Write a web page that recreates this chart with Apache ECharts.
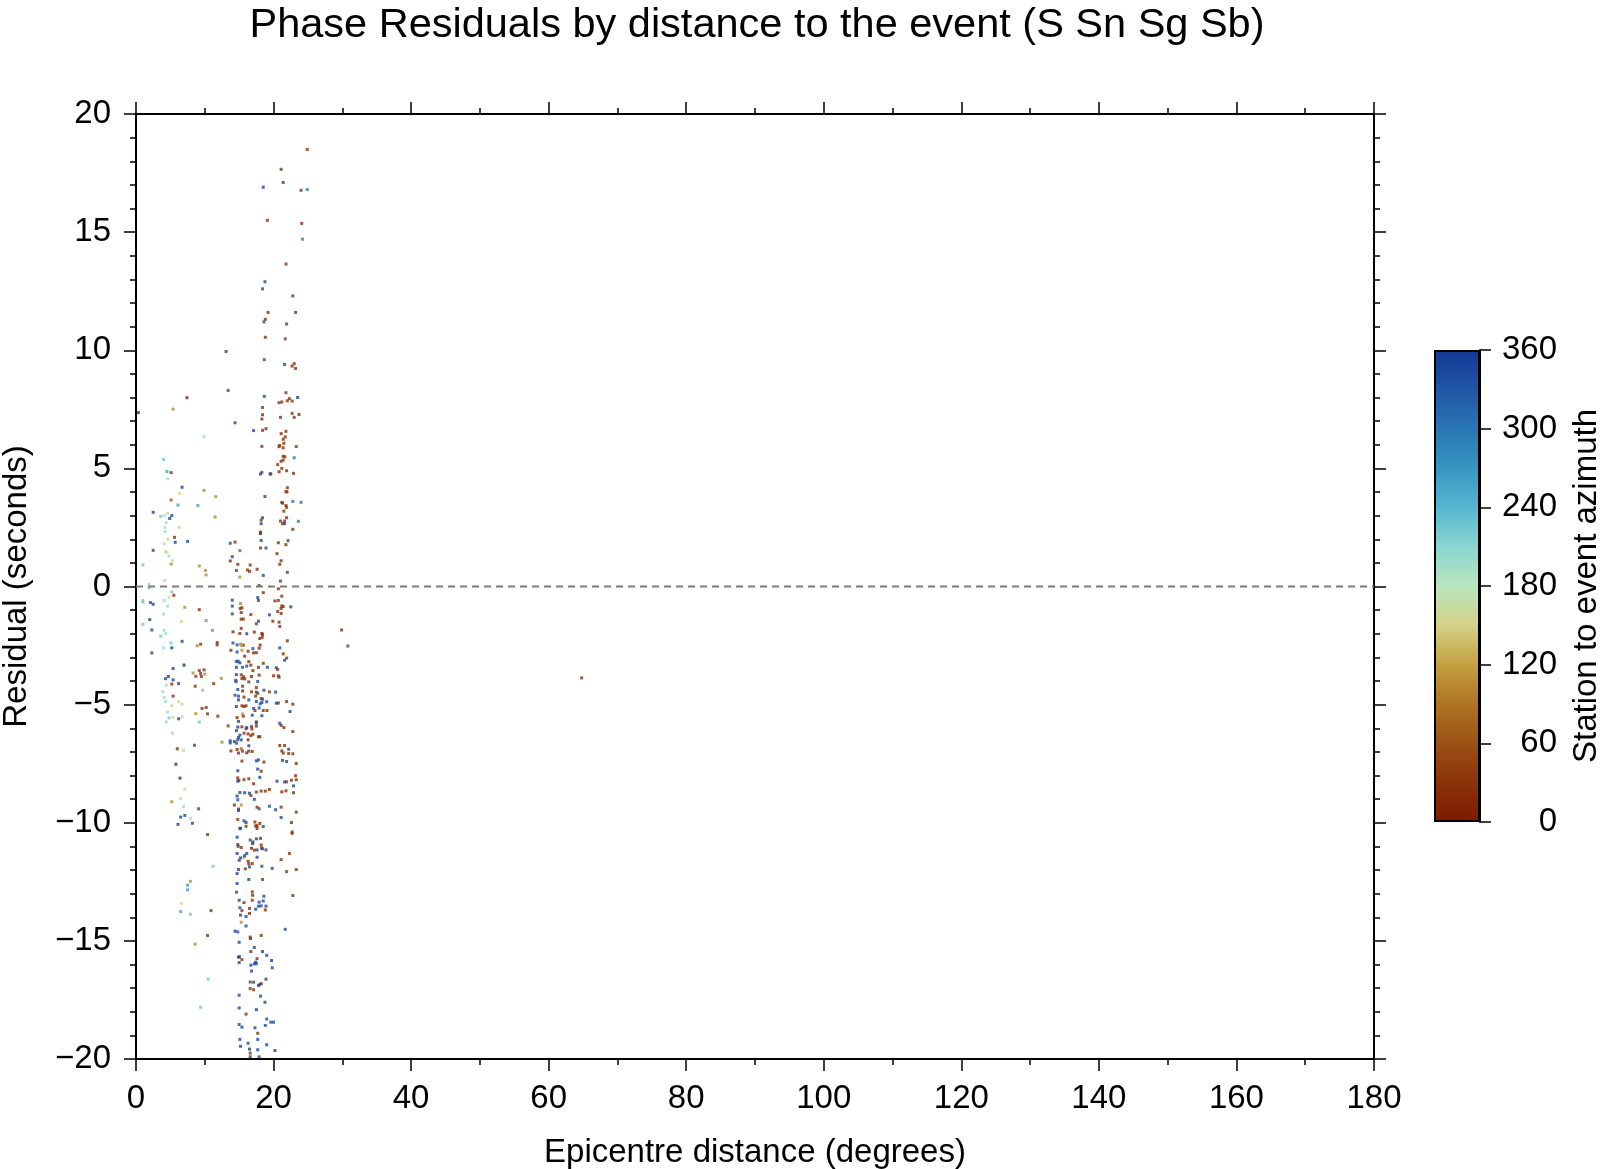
<!DOCTYPE html>
<html>
<head>
<meta charset="utf-8">
<script src="https://cdn.jsdelivr.net/npm/echarts@6/dist/echarts.min.js"></script>
<style>
html,body{margin:0;padding:0;background:#fff;}
#chart{width:1600px;height:1169px;}
</style>
</head>
<body>
<div id="chart"></div>
<script>
// ---- Data: [epicentre distance (deg), residual (s)] grouped by station-to-event azimuth ----
const titleText = 'Phase Residuals by distance to the event (S Sn Sg Sb)';
const xTicks = [0, 20, 40, 60, 80, 100, 120, 140, 160, 180];
const yTicks = [-20, -15, -10, -5, 0, 5, 10, 15, 20];
const azimuthTicks = [0, 60, 120, 180, 240, 300, 360];
const zeroLine = [[0, 0], [180, 0]];

const groupAzimuth = {
  darkBrown: 8, brown: 25, goldBrown: 70, gold: 105, yellowGreen: 158,
  mint: 195, cyan: 225, blueCyan: 262, lightBlue: 300, blue: 345
};

const darkBrown = [[7.4,7.99],[0.34,7.36],[18.1,2.24],[5.8,-7.52],[6.4,-8.11],[18.1,2.3]];

const brown = [
  [24.9,18.5],[21.1,17.66],[24.0,16.77],[19.1,15.5],[24.1,15.37],[21.8,13.65],[22.8,12.3],[19.2,11.6],[23.2,11.6],[18.8,11.31],[21.9,11.11],[18.8,10.55],[21.7,10.48],
  [18.65,9.6],[22.7,9.33],[23.0,9.43],[23.2,9.23],[21.8,8.2],[20.8,7.78],[21.2,7.81],[22.0,7.86],[22.3,7.95],[22.7,7.85],[18.4,7.58],[18.4,7.27],[18.3,7.09],[21.0,7.16],[22.7,7.33],[23.0,7.16],[23.7,7.28],[14.4,6.93],[18.4,6.61],[18.9,6.68],[21.8,6.57],[21.1,6.47],[21.7,6.33],[21.4,6.23],[21.5,6.06],[20.9,5.97],[20.8,5.92],[18.3,5.93],[21.4,5.87],[23.3,5.92],[21.4,5.51],[21.65,5.49],[21.4,5.35],[21.1,5.3],[20.6,5.16],[5.1,4.82],[21.2,5.0],[20.8,4.86],[21.9,4.9],[22.9,4.79],[18.3,4.83],[19.6,4.76],[22.0,4.18],[18.75,3.81],[21.8,4.01],[21.95,4.01],[21.2,3.56],[21.3,3.53],[21.8,3.43],[21.9,3.35],[21.5,3.19],[18.2,2.81],[21.9,2.91],[21.0,2.77],[21.6,2.77],[21.3,2.66],[22.8,2.42],[5.6,2.08],[22.1,1.94],[14.4,1.88],[20.7,1.85],[21.8,1.77],[18.1,1.63],[20.5,1.39],[21.1,1.09],[20.9,0.94],[13.7,1.08],[14.8,0.94],[16.6,0.91],[16.2,0.7],[16.5,0.64],[17.6,0.73],[21.0,0.23],[17.9,0.04],[20.7,-0.1],
  [5.5,-0.37],[18.5,-0.26],[17.8,-0.59],[21.2,-0.41],[20.2,-0.61],[20.7,-0.59],[15.4,-0.9],[15.15,-0.93],[21.2,-0.82],[21.1,-0.93],[21.4,-0.85],[9.2,-0.98],[15.3,-1.1],[16.7,-1.19],[20.6,-1.06],[21.1,-1.14],[15.3,-1.38],[15.6,-1.38],[17.5,-1.58],[19.9,-1.47],[20.8,-1.51],[20.9,-1.69],[15.3,-1.77],[14.1,-1.92],[15.1,-1.99],[17.2,-1.93],[18.3,-1.99],[18.4,-2.03],[18.35,-2.15],[18.0,-2.2],[9.4,-2.44],[11.8,-2.37],[11.8,-2.47],[15.6,-2.48],[13.8,-2.7],[15.8,-2.95],[16.3,-2.74],[17.1,-2.81],[17.5,-2.8],[17.9,-2.61],[18.05,-2.48],[22.0,-2.3],[21.4,-2.85],[21.9,-3.03],[16.4,-3.18],[16.7,-3.33],[17.0,-3.56],[17.8,-3.42],[18.5,-3.25],[20.6,-3.51],[20.7,-3.78],[20.0,-3.78],[8.7,-3.8],[9.2,-3.56],[9.4,-3.68],[9.5,-3.81],[9.9,-3.53],[5.2,-4.13],[8.6,-4.22],[11.3,-4.11],[15.3,-3.74],[15.4,-3.9],[15.65,-3.82],[15.8,-3.91],[16.4,-4.04],[16.8,-3.81],[17.9,-3.75],[20.8,-3.84],[15.5,-4.22],[15.5,-4.42],[17.5,-4.28],[17.7,-4.52],[16.8,-4.46],[19.4,-4.46],[5.4,-4.64],[15.7,-4.68],[17.4,-4.64],[18.2,-4.74],[21.9,-4.87],[20.7,-4.93],[22.8,-4.98],[9.6,-5.16],[10.2,-5.12],[15.4,-5.05],[16.0,-5.05],[15.7,-5.08],[17.3,-5.25],[18.5,-5.25],[19.05,-5.25],[10.4,-5.39],[11.9,-5.49],[15.6,-5.49],[17.5,-5.73],[14.7,-5.55],[13.4,-5.9],[15.4,-5.94],[16.0,-6.02],[16.8,-5.93],[16.85,-6.03],[17.5,-5.91],[21.1,-5.88],[21.5,-5.97],[15.7,-6.21],[16.3,-6.24],[16.7,-6.31],[17.0,-6.25],[17.8,-6.36],[18.0,-6.36],[22.8,-6.14],[16.3,-6.49],[8.5,-6.72],[6.0,-6.87],[13.8,-6.96],[14.7,-6.9],[14.9,-7.05],[15.5,-6.97],[16.1,-7.04],[16.4,-6.97],[16.9,-6.98],[20.9,-6.73],[21.6,-6.73],[21.2,-6.96],[21.4,-7.05],[22.2,-7.07],[22.8,-7.08],[15.4,-7.39],[18.6,-7.43],[23.3,-7.49],[18.2,-7.82],[14.8,-8.1],[14.95,-8.21],[15.7,-8.18],[16.4,-8.14],[17.1,-8.35],[21.9,-8.27],[22.6,-8.2],[23.3,-8.18],[23.2,-8.01],[17.5,-8.7],[18.2,-8.66],[18.8,-8.66],[19.4,-8.59],[21.2,-8.69],[21.8,-8.65],[22.9,-8.73],[16.7,-8.85],[14.3,-9.25],[17.6,-9.34],[21.1,-9.34],[23.3,-9.55],[9.1,-9.41],[14.8,-9.86],[17.3,-9.97],[18.0,-10.03],[17.6,-10.13],[22.6,-9.99],
  [10.4,-10.5],[17.4,-10.13],[17.6,-10.24],[16.0,-10.15],[22.7,-10.39],[22.7,-10.45],[17.0,-10.81],[14.8,-10.92],[15.3,-11.05],[16.8,-11.08],[17.2,-11.16],[18.2,-10.94],[18.25,-11.07],[16.3,-11.63],[16.4,-11.74],[16.9,-11.73],[22.3,-11.3],[21.1,-11.56],[21.9,-12.07],[23.3,-11.98],[15.9,-11.95],[18.4,-12.4],[16.9,-12.93],[16.95,-13.07],[22.8,-13.08],[15.7,-13.38],[16.9,-13.28],[18.8,-13.69],[16.5,-13.63],[15.4,-13.72],[10.9,-13.72],[16.5,-13.84],[10.4,-14.77],[16.6,-14.84],[16.65,-14.9],[18.2,-14.77],[16.7,-15.45],[15.4,-15.79],[17.6,-15.75],[16.6,-16.74],[18.2,-16.81],[16.6,-17.02],[17.1,-17.07],[16.0,-18.1],[17.7,-18.91],[16.6,-19.75],
  [29.9,-1.84],[30.8,-2.52],[64.8,-3.87]
];

const goldBrown = [[15.1,1.52],[5.1,3.66],[15.3,-6.87]];

const gold = [[5.4,7.51],[9.9,4.07],[11.6,3.8],[11.5,2.94],[5.1,0.95],[9.2,0.87],[10.1,0.68],[10.2,0.49],[15.1,0.4],
  [7.1,-0.88],[15.2,-0.72],[10.2,-1.44],[11.1,-1.86],[8.9,-2.51],[15.2,-2.44],[15.4,-2.5],[15.4,-2.7],[8.3,-3.66],[10.0,-3.71],[12.4,-3.89],[8.7,-5.38],[15.5,-5.4],[12.5,-6.59],[5.2,-9.11],[15.3,-9.25],
  [15.7,-11.46],[7.9,-12.48],[15.3,-14.21],[8.6,-15.14]];

const yellowGreen = [[6.35,3.94],[4.6,3.1],[6.25,2.5],[4.65,2.0],[4.3,1.47],[4.5,1.45],[5.3,1.09],[1.9,0.09],
  [4.8,-0.45],[6.6,-1.48],[6.9,-3.3],[5.2,-5.05],[6.2,-4.88],[6.7,-4.98],[5.4,-5.53],[6.7,-5.52],[6.9,-6.94],[7.1,-8.58],[6.5,-8.97],[6.6,-13.41]];

const mint = [[9.9,6.35],[4.6,4.56],[4.1,3.0],[4.4,2.7],[4.2,2.5],[4.2,2.32],[4.1,1.81],[4.8,1.29],[4.2,0.25],
  [4.1,-0.59],[4.6,-0.83],[4.0,-1.17],[4.1,-1.85],[4.3,-1.99],[5.0,-2.37],[5.15,-2.4],[4.0,-2.6],[4.4,-4.18],[3.9,-4.45],[4.1,-4.7],[4.3,-4.87],[4.6,-5.31],[4.4,-5.73],[5.3,-6.21],[6.9,-9.31],[7.9,-9.82]];

const cyan = [[4.0,5.38],[3.6,2.97],[1.0,0.91],[1.9,-0.06],
  [5.2,-0.23],[1.0,-0.59],[1.0,-0.66],[1.0,-1.6],[3.6,-2.1],[9.7,-4.39],[4.8,-5.56],[9.2,-5.74],
  [11.2,-11.84],[7.9,-13.87],[10.5,-16.62],[9.4,-17.81]];

const blueCyan = [[4.5,4.87],[6.1,3.45],[9.0,3.43],[7.5,-12.64],[7.5,-12.84],[6.5,-13.76]];

const lightBlue = [[24.9,16.8],[24.2,14.7],[23.0,5.45],[22.8,3.6],[24.0,3.56],[23.6,2.76]];

const blue = [
  [18.5,16.9],[21.4,17.1],[18.75,12.9],[18.4,12.6],[18.6,11.2],
  [13.1,9.95],[21.6,9.4],[13.4,8.3],[18.65,8.05],[23.5,8.0],[17.1,6.6],[18.1,4.76],[19.5,4.77],[6.7,4.2],[2.5,3.14],[5.2,3.0],[4.9,2.88],[18.4,2.91],[21.6,2.66],[18.2,2.66],[18.2,1.95],[5.7,1.87],[7.5,1.91],[13.7,1.83],[18.9,1.63],[14.0,1.26],[14.6,0.68],[18.5,0.47],[22.0,0.6],[2.5,1.53],
  [17.7,-0.47],[2.1,-0.68],[2.5,-0.75],[14.0,-0.58],[14.0,-0.83],[22.5,-0.86],[14.0,-1.16],[19.4,-1.2],[2.0,-1.4],[17.8,-1.47],[2.3,-1.84],[16.1,-2.0],[5.2,-2.6],[2.3,-2.81],[6.7,-2.32],[14.1,-2.39],[14.7,-2.47],[14.7,-2.77],[17.0,-2.63],[20.9,-2.6],[21.6,-3.12],[14.6,-3.18],[14.85,-3.16],[14.6,-3.42],[15.1,-3.23],[15.5,-3.42],[16.1,-3.37],[19.1,-3.42],[20.4,-3.44],[5.4,-3.47],[7.0,-3.33],[4.3,-3.9],[4.7,-3.81],[5.4,-3.95],[6.2,-4.11],[14.6,-3.73],[14.5,-3.97],[14.55,-4.03],[17.7,-4.02],[14.8,-4.36],[17.5,-4.47],[18.6,-4.39],[20.3,-4.47],[14.9,-4.64],[14.4,-4.6],[14.9,-4.8],[16.4,-4.8],[17.5,-4.87],[18.4,-4.77],[18.3,-4.91],[19.0,-4.88],[20.4,-4.94],[14.6,-5.08],[17.1,-5.16],[17.9,-5.14],[18.05,-4.97],[22.4,-5.29],[16.9,-5.45],[18.3,-5.47],[6.2,-5.6],[14.9,-5.71],[14.8,-5.95],[16.1,-5.97],[17.5,-5.78],[20.9,-5.79],[14.6,-6.1],[15.1,-6.29],[13.7,-6.53],[13.7,-6.62],[14.3,-6.56],[14.6,-6.63],[14.8,-6.49],[14.9,-6.39],[15.3,-6.49],[16.4,-6.74],[22.2,-6.89],[17.5,-7.38],[17.8,-7.34],[21.3,-7.36],[21.9,-7.41],[14.8,-7.8],[17.7,-7.73],[14.8,-8.24],[18.0,-8.08],[20.5,-8.24],[21.6,-8.27],[22.9,-8.44],[15.1,-8.72],[15.8,-8.73],[16.5,-8.75],[14.7,-8.87],[14.8,-9.03],[17.2,-9.01],[14.9,-9.42],[14.9,-9.48],[17.9,-9.41],[19.4,-9.3],[20.3,-9.45],[6.5,-9.76],[7.1,-9.69],[6.1,-10.07],[8.2,-10.02],[15.7,-9.92],[16.0,-9.99],[18.5,-10.16],[21.1,-9.78],[15.2,-10.23],
  [15.1,-10.25],[14.7,-10.61],[16.6,-10.73],[16.95,-10.88],[17.5,-10.68],[18.1,-10.66],[14.85,-11.0],[17.6,-11.15],[18.4,-11.1],[18.9,-11.15],[14.7,-11.3],[16.1,-11.3],[15.8,-11.39],[15.2,-11.49],[15.0,-11.59],[17.6,-11.46],[16.5,-11.87],[18.3,-11.84],[19.8,-11.93],[14.9,-11.98],[14.7,-12.15],[16.4,-12.4],[14.7,-12.57],[14.6,-12.94],[18.6,-13.11],[15.0,-13.28],[17.9,-13.36],[17.8,-13.53],[18.2,-13.52],[18.5,-13.31],[18.9,-13.53],[17.4,-13.66],[15.1,-13.6],[15.2,-13.91],[16.0,-13.97],[16.0,-14.37],[21.7,-14.51],[14.4,-14.59],[14.8,-14.62],[15.0,-15.06],[17.2,-15.28],[14.9,-15.69],[15.05,-15.67],[15.0,-15.92],[16.7,-16.03],[17.2,-15.97],[17.4,-15.9],[17.5,-15.97],[18.4,-15.45],[19.0,-15.61],[19.7,-15.83],[19.8,-16.14],[16.8,-16.28],[17.1,-16.75],[17.8,-16.89],[18.0,-16.85],[18.9,-16.62],[15.0,-17.3],[18.1,-17.34],[18.75,-17.6],[15.0,-17.84],[17.5,-17.91],[19.0,-18.31],[19.6,-18.44],[20.0,-18.44],[18.8,-18.58],[15.0,-18.54],[15.4,-18.65],[17.3,-18.68],[15.1,-19.17],[17.7,-19.17],[16.3,-19.33],[15.2,-19.46],[19.0,-19.4],[16.5,-19.58],[17.7,-19.61],[20.2,-19.64],[16.6,-19.91],[17.9,-19.91]
];

// roma-like colour scale, azimuth 0 -> 360
const paletteStops = [
  [0.000, '#7E1900'], [0.083, '#8A330A'], [0.167, '#9C5115'], [0.250, '#AF7424'],
  [0.333, '#C3A040'], [0.417, '#D4D189'], [0.500, '#BAE5BE'], [0.583, '#8AD6D0'],
  [0.667, '#56B7D0'], [0.750, '#3696C3'], [0.833, '#2A76B4'], [0.917, '#2156A4'],
  [1.000, '#123794']
];

// ---- build ----
const groups = { darkBrown, brown, goldBrown, gold, yellowGreen, mint, cyan, blueCyan, lightBlue, blue };
const scatterData = [];
Object.keys(groups).forEach(k => {
  groups[k].forEach(p => scatterData.push([p[0], p[1], groupAzimuth[k]]));
});

const FONT = '"Liberation Sans", Helvetica, Arial, sans-serif';
const FS = 33;
const minus = v => (v < 0 ? '\u2212' + Math.abs(v) : String(v));

const chart = echarts.init(document.getElementById('chart'), null, { renderer: 'canvas' });

const axisCommon = {
  axisLine: { show: true, onZero: false, lineStyle: { color: '#000', width: 2 } },
  axisTick: { show: true, inside: false, length: 12, lineStyle: { color: '#000', width: 1.5 } },
  splitLine: { show: false }
};

chart.setOption({
  backgroundColor: '#fff',
  animation: false,
  title: {
    text: titleText, left: 752, top: 0, textAlign: 'center',
    textStyle: { fontFamily: FONT, fontSize: 41.5, fontWeight: 'normal', color: '#000' }
  },
  grid: [
    { left: 136, top: 114, width: 1238, height: 945, show: false, containLabel: false, outerBoundsMode: 'none' },
    { left: 1434, top: 350, width: 46, height: 472, show: false, containLabel: false, outerBoundsMode: 'none' }
  ],
  visualMap: {
    show: false, type: 'continuous', min: 0, max: 360, dimension: 2, seriesIndex: 0,
    inRange: { color: paletteStops.map(s => s[1]) }
  },
  xAxis: [
    Object.assign({}, axisCommon, {
      type: 'value', gridIndex: 0, min: xTicks[0], max: xTicks[xTicks.length - 1], interval: 20,
      position: 'bottom',
      minorTick: { show: true, splitNumber: 2, length: 6, lineStyle: { color: '#000', width: 1.5 } },
      axisLabel: { show: true, margin: 23, fontFamily: FONT, fontSize: FS, color: '#000', formatter: minus },
      name: 'Epicentre distance (degrees)', nameLocation: 'middle', nameGap: 77,
      nameTextStyle: { fontFamily: FONT, fontSize: FS, color: '#000' }
    }),
    Object.assign({}, axisCommon, {
      type: 'value', gridIndex: 0, min: xTicks[0], max: xTicks[xTicks.length - 1], interval: 20,
      position: 'top',
      minorTick: { show: true, splitNumber: 2, length: 6, lineStyle: { color: '#000', width: 1.5 } },
      axisLabel: { show: false }
    }),
    { type: 'category', gridIndex: 1, data: ['bar'], show: false }
  ],
  yAxis: [
    Object.assign({}, axisCommon, {
      type: 'value', gridIndex: 0, min: yTicks[0], max: yTicks[yTicks.length - 1], interval: 5,
      position: 'left',
      minorTick: { show: true, splitNumber: 5, length: 6, lineStyle: { color: '#000', width: 1.5 } },
      axisLabel: { show: true, margin: 25, fontFamily: FONT, fontSize: FS, color: '#000', formatter: minus },
      name: 'Residual (seconds)', nameLocation: 'middle', nameGap: 103, nameRotate: 90,
      nameTextStyle: { fontFamily: FONT, fontSize: FS, color: '#000' }
    }),
    Object.assign({}, axisCommon, {
      type: 'value', gridIndex: 0, min: yTicks[0], max: yTicks[yTicks.length - 1], interval: 5,
      position: 'right',
      minorTick: { show: true, splitNumber: 5, length: 6, lineStyle: { color: '#000', width: 1.5 } },
      axisLabel: { show: false }
    }),
    Object.assign({}, axisCommon, {
      type: 'value', gridIndex: 1, min: azimuthTicks[0], max: azimuthTicks[azimuthTicks.length - 1], interval: 60,
      position: 'right',
      axisTick: { show: true, inside: false, length: 11, lineStyle: { color: '#000', width: 1.5 } },
      axisLabel: { show: true, margin: 77, align: 'right', fontFamily: FONT, fontSize: FS, color: '#000' },
      name: 'Station to event azimuth', nameLocation: 'middle', nameGap: 90, nameRotate: 90,
      nameTextStyle: { fontFamily: FONT, fontSize: FS, color: '#000' }
    })
  ],
  series: [
    {
      type: 'scatter', xAxisIndex: 0, yAxisIndex: 0,
      symbol: 'rect', symbolSize: 3,
      data: scatterData, z: 3
    },
    {
      type: 'line', xAxisIndex: 0, yAxisIndex: 0, data: zeroLine,
      symbol: 'none', silent: true,
      lineStyle: { color: '#7a7a7a', width: 2, type: [7, 5] }, z: 4
    },
    {
      type: 'bar', xAxisIndex: 2, yAxisIndex: 2, data: [azimuthTicks[azimuthTicks.length - 1]],
      barWidth: '100%', silent: true,
      itemStyle: {
        color: new echarts.graphic.LinearGradient(0, 1, 0, 0,
          paletteStops.map(s => ({ offset: s[0], color: s[1] }))),
        borderColor: '#000', borderWidth: 2
      }
    }
  ]
});
</script>
</body>
</html>
